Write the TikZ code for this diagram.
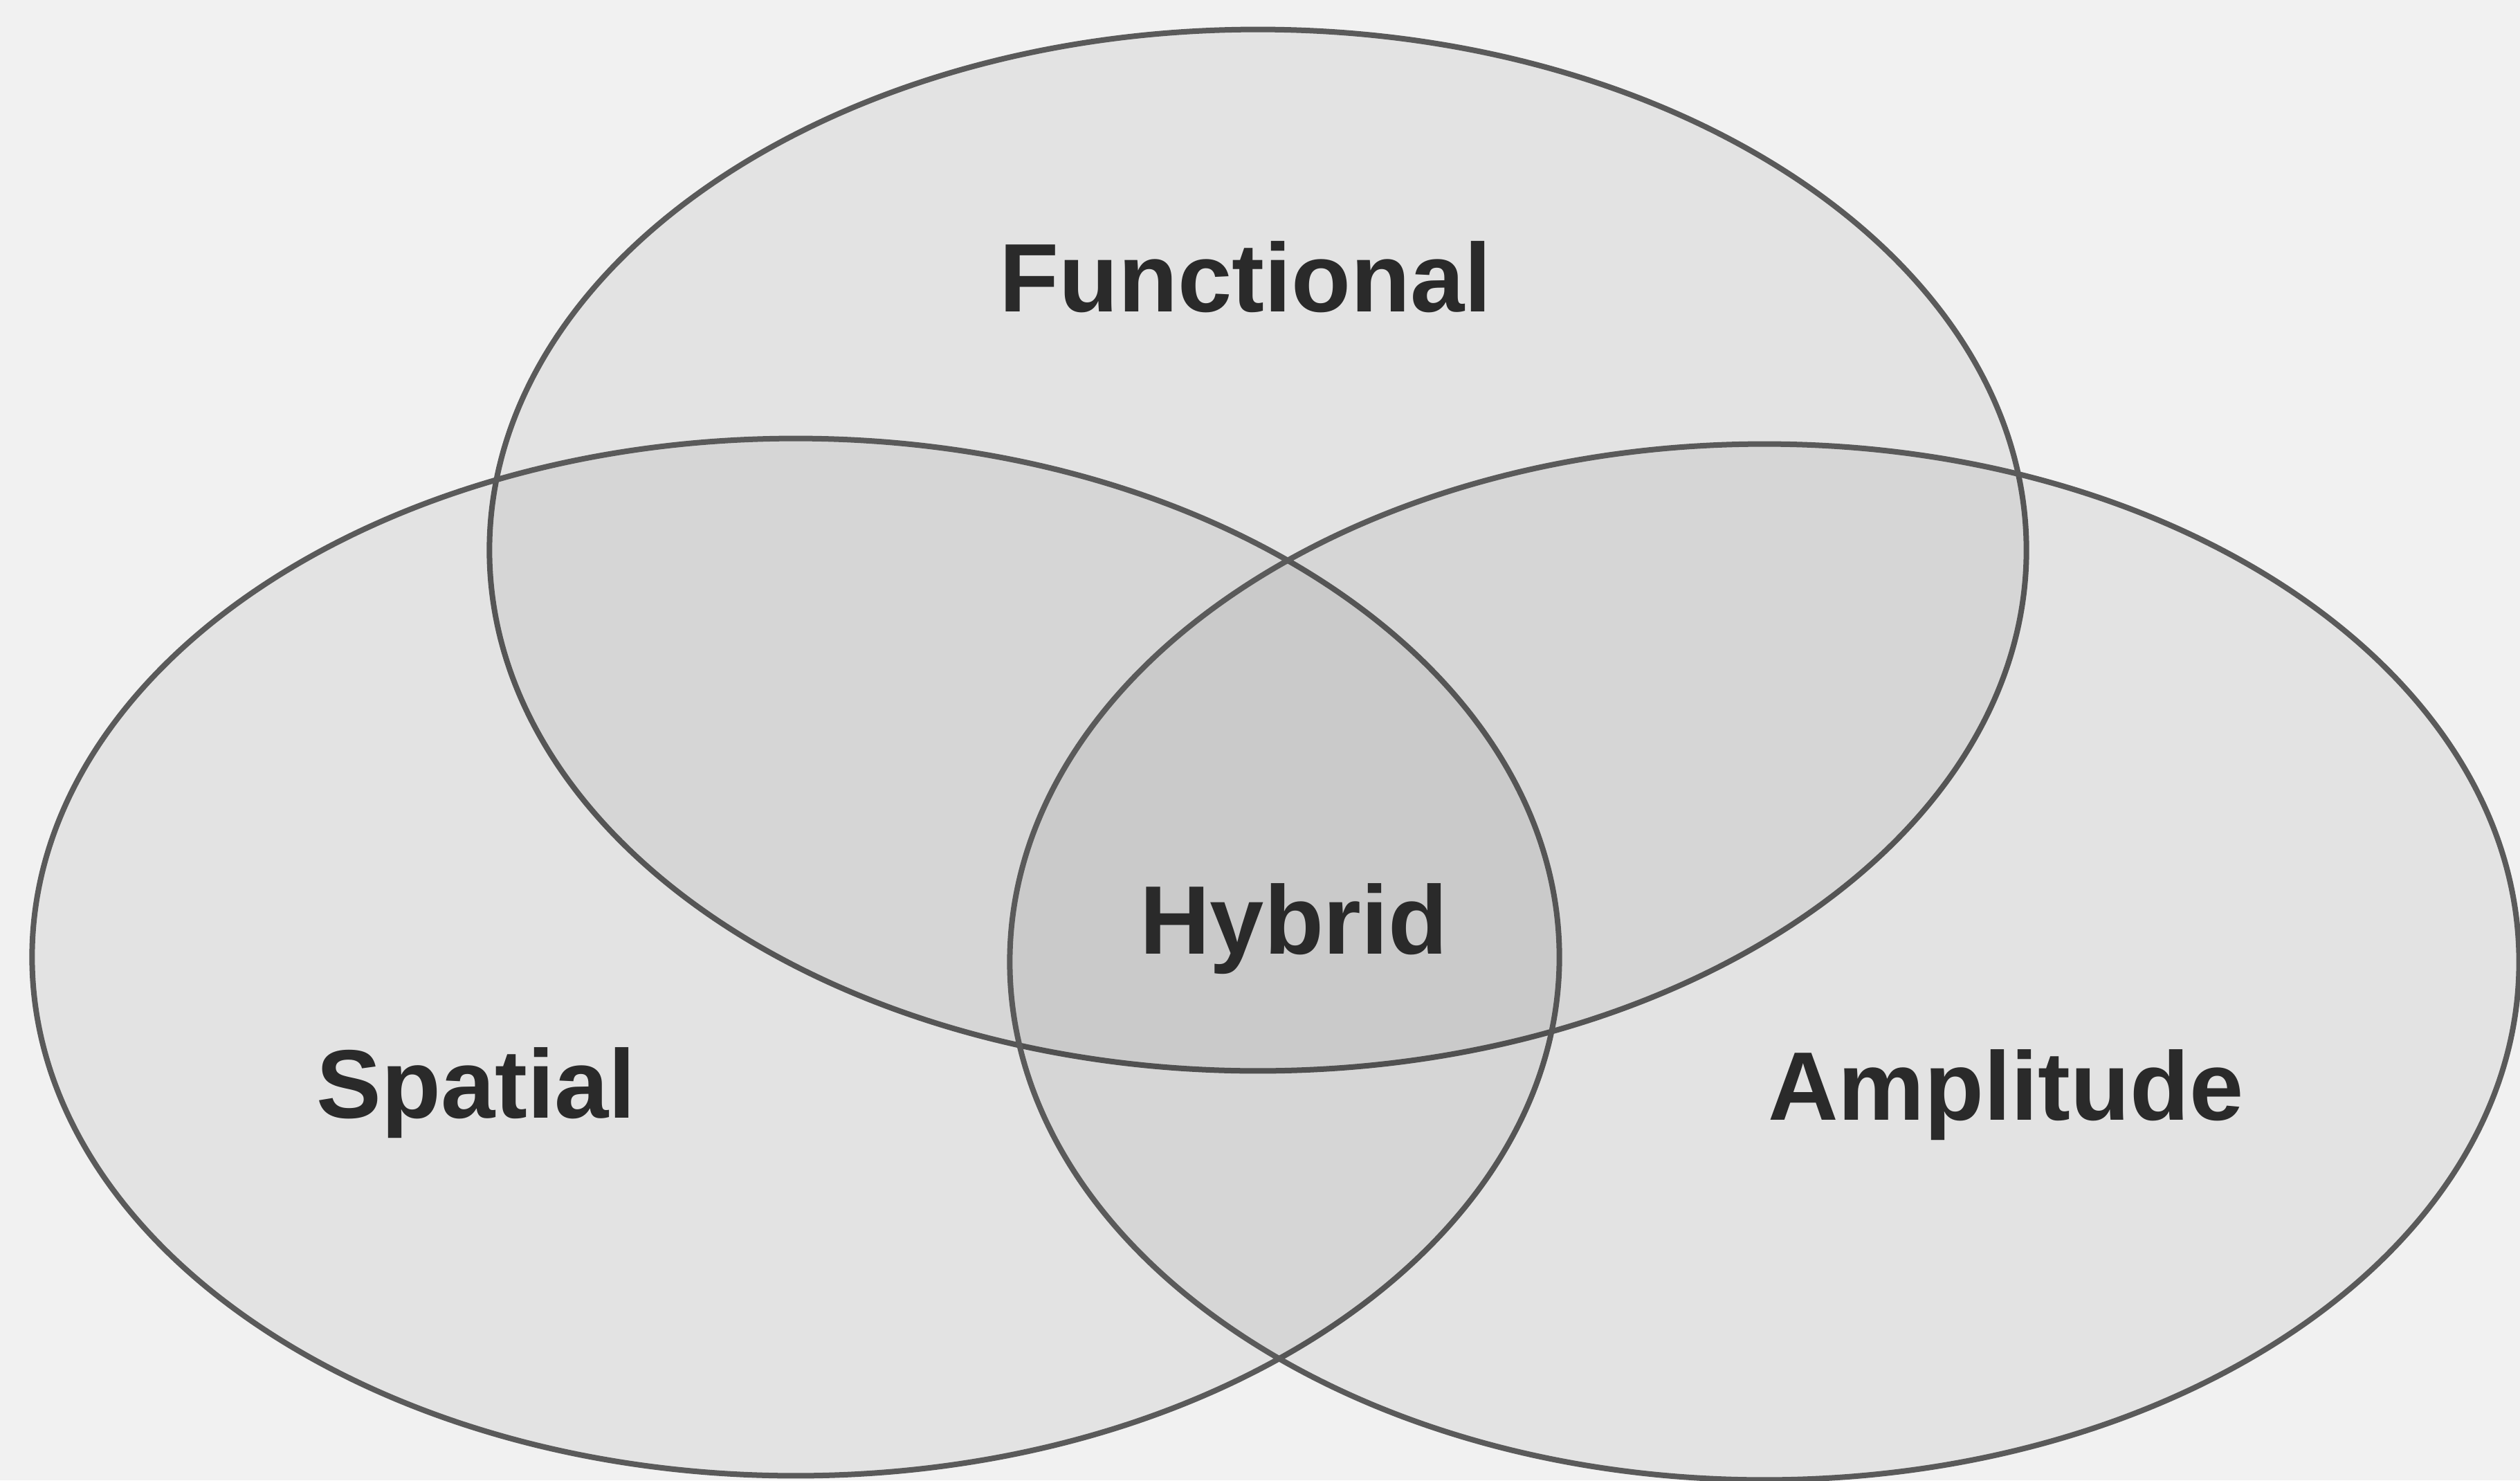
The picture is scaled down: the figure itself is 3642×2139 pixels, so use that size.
\documentclass[tikz,border=0pt]{standalone}
\usepackage{fontspec}
\setmainfont{Liberation Sans}
\usetikzlibrary{shapes.geometric}
\definecolor{bgcol}{HTML}{F1F1F1}
\definecolor{edgecol}{HTML}{5A5A5A}
\definecolor{txtcol}{HTML}{2A2A2A}
\tikzset{
  setshape/.style={ellipse, inner sep=0pt, outer sep=0pt,
    fill=black, fill opacity=0.055, draw=edgecol, draw opacity=1,
    line width=0.08cm},
  setlabel/.style={text=txtcol, font=\fontsize{40}{44}\selectfont\bfseries,
    inner sep=0pt, anchor=center}
}
\begin{document}
\begin{tikzpicture}[x=0.01cm,y=-0.01cm]
\useasboundingbox (0,0) rectangle (3642,2139);
\fill[bgcol] (0,0) rectangle (3642,2139);
\node[setshape, minimum width=22.20cm, minimum height=15.04cm] (functional) at (1818,795) {};
\node[setshape, minimum width=22.06cm, minimum height=14.98cm] (spatial) at (1150,1383) {};
\node[setshape, minimum width=21.80cm, minimum height=14.96cm] (amplitude) at (2550,1390) {};
\node[setlabel] (lfunctional) at (1800,400) {Functional};
\node[setlabel] (lhybrid) at (1870,1342) {Hybrid};
\node[setlabel] (lspatial) at (688,1579) {Spatial};
\node[setlabel] (lamplitude) at (2899,1582) {Amplitude};
\end{tikzpicture}
\end{document}
